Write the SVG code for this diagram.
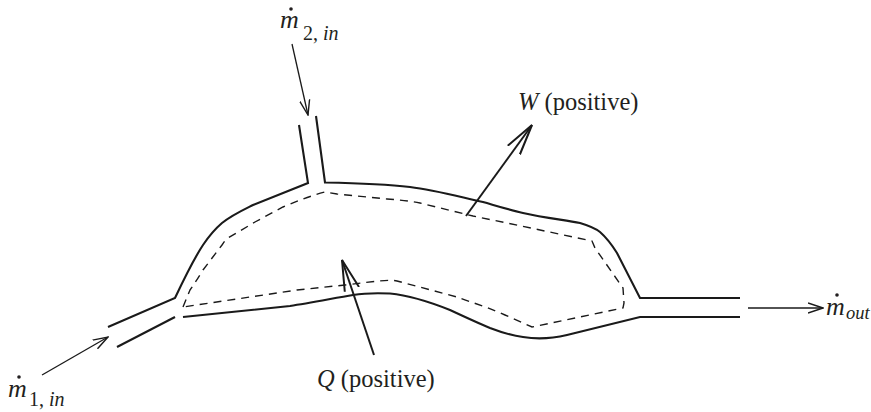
<svg xmlns="http://www.w3.org/2000/svg" width="871" height="412" viewBox="0 0 871 412">
<style>
.wall{fill:none;stroke:#1a1a1a;stroke-width:2.1;stroke-linejoin:miter}
.cv{fill:none;stroke:#1a1a1a;stroke-width:1.4;stroke-dasharray:8 6}
.flow{fill:none;stroke:#1a1a1a;stroke-width:1.3}
.heavy{fill:none;stroke:#1a1a1a;stroke-width:2}
text{font-family:"Liberation Serif","Times New Roman",serif;fill:#231f20}
.lab{font-size:24.5px}
.sym{font-size:26px;font-style:italic}
.sub{font-size:20px}
.it{font-style:italic}
</style>
<defs>
<marker id="open" viewBox="0 0 16 12" refX="15" refY="6" markerWidth="16" markerHeight="12" markerUnits="userSpaceOnUse" orient="auto"><path d="M0 1L15 6L0 11" fill="none" stroke="#1a1a1a" stroke-width="1.4"/></marker>
<marker id="openbig" viewBox="0 0 32 18" refX="31" refY="9" markerWidth="32" markerHeight="18" markerUnits="userSpaceOnUse" orient="auto"><path d="M0 1.5L31 9L0 16.5" fill="none" stroke="#1a1a1a" stroke-width="2"/></marker>
</defs>
<g id="control-volume"><path class="cv" d="M183 307L190 290C195 283 198 278 203 270L222 245C224 242 226 239 228 238L255 222L283 207C300 200 310 196 325 192L337 194L387 199C400 200 410 201 420 203L473 216L507 223L592 241L595 248L623 288L624 303L623 308L532 327L505 315C485 306 470 302 457 297L397 281C390 279 370 282 345 285L297 290L183 307Z"/></g>
<g id="vessel">
<path class="wall" d="M108 327L175 298C184 279 193 260 203 245C209 236 215 229 222 223C232 215 243 210 253 205L308 183L299 125"/>
<path class="wall" d="M316 116L325 182.5C350 183 385 184 410 187C435 190 460 197 483 202C497 206 510 210 523 213C545 218 565 220 580 223C590 226 595 228 600 232C608 239 612 245 617 253L640 298H740"/>
<path class="wall" d="M117 347L175 317"/>
<path class="wall" d="M183 317L290 306C310 303 335 298 353 295C365 293 380 293 390 293.5C405 295 425 300 450 310C465 317 478 323 490 328C503 333 515 336 523 337C535 339 550 339 567 335L640 317H740"/>
</g>
<g id="connectors">
<path class="flow" d="M42 375L108 337" marker-end="url(#open)"/>
<path class="flow" d="M292 44L308 115" marker-end="url(#open)"/>
<path class="flow" d="M748 308H823" marker-end="url(#open)"/>
<path class="heavy" d="M466 216L532 125" marker-end="url(#openbig)"/>
<path class="heavy" d="M374 355L342 260" marker-end="url(#openbig)"/>
</g>
<g id="label-m1"><text class="sym" x="8" y="397">m</text><circle cx="19" cy="377" r="1.8" fill="#231f20"/><text class="sub" x="29" y="406">1, <tspan class="it">in</tspan></text></g>
<g id="label-m2"><text class="sym" x="280" y="28">m</text><circle cx="291" cy="9" r="1.8" fill="#231f20"/><text class="sub" x="303" y="40">2, <tspan class="it">in</tspan></text></g>
<g id="label-mout"><text class="sym" x="826" y="315">m</text><circle cx="837" cy="295" r="1.8" fill="#231f20"/><text class="sub it" x="846" y="319" font-size="18.5" style="font-size:18.5px">out</text></g>
<g id="label-w"><text class="lab" x="518" y="110"><tspan class="it">W</tspan> (positive)</text></g>
<g id="label-q"><text class="lab" x="317" y="387"><tspan class="it">Q</tspan> (positive)</text></g>
</svg>
